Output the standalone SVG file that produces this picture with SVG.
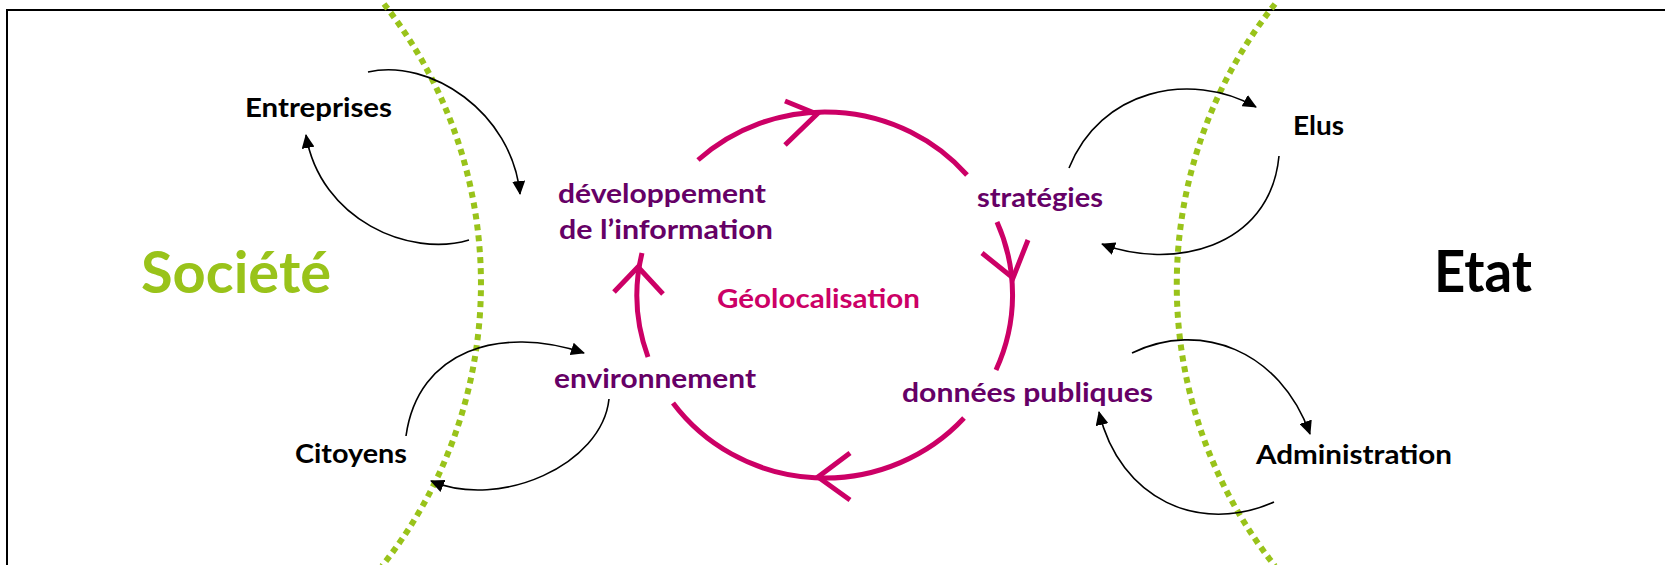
<svg xmlns="http://www.w3.org/2000/svg" width="1665" height="565" viewBox="0 0 1665 565">
<style>
.lbl{font-family:Lato,"Open Sans","Liberation Sans",sans-serif;font-weight:bold;font-size:27px}
.blk{fill:#000}
.pur{fill:#660066}
.mag{fill:#cc0066}
.big{font-size:57px}
.grn{fill:#99c31a}
.cyc{fill:none;stroke:#cc0066;stroke-width:5}
.con{fill:none;stroke:#000;stroke-width:1.6}
.div{fill:none;stroke:#99c31a;stroke-width:6;stroke-dasharray:6 5}
</style>
<defs>
<marker id="ah" markerWidth="14" markerHeight="13" refX="13" refY="6.5" orient="auto" markerUnits="userSpaceOnUse"><path d="M0,0 L14,6.5 L0,13 z" fill="#000"/></marker>
</defs>
<rect width="1665" height="565" fill="#fff"/>
<path d="M1670 10 H7 V570" fill="none" stroke="#000" stroke-width="2"/>
<g id="dividers">
<path class="div" d="M384 4 A452 452 0 0 1 382 566"/>
<path class="div" d="M1275 4 A451 451 0 0 0 1275 566"/>
</g>
<g id="cycle">
<path class="cyc" d="M698 160 A188 183 0 0 1 967 175"/>
<path class="cyc" d="M785 101 L817 114 L785 145"/>
<path class="cyc" d="M997 222 A188 183 0 0 1 996 370"/>
<path class="cyc" d="M982 253 L1013 278 L1028 240"/>
<path class="cyc" d="M964 418 A188 183 0 0 1 673 403"/>
<path class="cyc" d="M850 453 L818 477 L850 500"/>
<path class="cyc" d="M648 357 A188 183 0 0 1 642 253"/>
<path class="cyc" d="M614 292 L638 267 L663 294"/>
</g>
<g id="connectors">
<path class="con" marker-end="url(#ah)" d="M368 72 C430 58 512 112 520 194"/>
<path class="con" marker-end="url(#ah)" d="M469 240 C410 258 320 220 306 135"/>
<path class="con" marker-end="url(#ah)" d="M406 436 C418 350 500 325 584 353"/>
<path class="con" marker-end="url(#ah)" d="M609 399 C602 465 500 510 431 481"/>
<path class="con" marker-end="url(#ah)" d="M1069 168 C1100 90 1190 70 1256 107"/>
<path class="con" marker-end="url(#ah)" d="M1279 156 C1270 250 1170 270 1102 244"/>
<path class="con" marker-end="url(#ah)" d="M1132 353 C1200 320 1280 350 1310 434"/>
<path class="con" marker-end="url(#ah)" d="M1274 502 C1200 535 1120 500 1099 412"/>
</g>
<g id="societe"><text class="lbl big grn" x="141" y="293" textLength="190" lengthAdjust="spacingAndGlyphs">Société</text></g>
<g id="etat"><text class="lbl big blk" x="1434" y="292" textLength="98" lengthAdjust="spacingAndGlyphs">Etat</text></g>
<g id="entreprises"><text class="lbl blk" x="245" y="117" textLength="147" lengthAdjust="spacingAndGlyphs">Entreprises</text></g>
<g id="citoyens"><text class="lbl blk" x="295" y="463" textLength="112" lengthAdjust="spacingAndGlyphs">Citoyens</text></g>
<g id="elus"><text class="lbl blk" x="1293" y="135" textLength="51" lengthAdjust="spacingAndGlyphs">Elus</text></g>
<g id="administration"><text class="lbl blk" x="1256" y="464" textLength="196" lengthAdjust="spacingAndGlyphs">Administration</text></g>
<g id="developpement">
<text class="lbl pur" x="558" y="203" textLength="208" lengthAdjust="spacingAndGlyphs">développement</text>
<text class="lbl pur" x="559" y="239" textLength="214" lengthAdjust="spacingAndGlyphs">de l’information</text>
</g>
<g id="environnement"><text class="lbl pur" x="554" y="388" textLength="202" lengthAdjust="spacingAndGlyphs">environnement</text></g>
<g id="strategies"><text class="lbl pur" x="977" y="207" textLength="126" lengthAdjust="spacingAndGlyphs">stratégies</text></g>
<g id="donnees"><text class="lbl pur" x="902" y="402" textLength="251" lengthAdjust="spacingAndGlyphs">données publiques</text></g>
<g id="geolocalisation"><text class="lbl mag" x="717" y="308" textLength="203" lengthAdjust="spacingAndGlyphs">Géolocalisation</text></g>
</svg>
